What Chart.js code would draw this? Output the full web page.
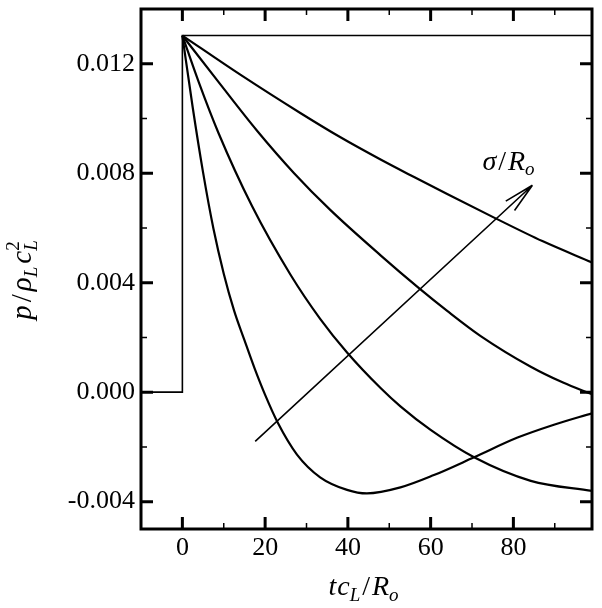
<!DOCTYPE html>
<html>
<head>
<meta charset="utf-8">
<script src="https://cdn.jsdelivr.net/npm/chart.js@4.4.1/dist/chart.umd.min.js"></script>
<style>
  html, body { margin: 0; padding: 0; background: #fff; }
  #wrap { position: relative; width: 602px; height: 608px; }
</style>
</head>
<body>
<div id="wrap"><canvas id="c" width="602" height="608"></canvas></div>
<script>
// ---- data (p in units of p/rho_L c_L^2) ----
const xTicks = [0, 20, 40, 60, 80];
const xMinor = [10, 30, 50, 70, 90];
const yTicks = [-0.004, 0.000, 0.004, 0.008, 0.012];
const yMinor = [-0.002, 0.002, 0.006, 0.010];

// step input (sigma -> infinity)
const stepT = [-10, 0, 0, 99];
const stepP = [0, 0, 0.01303, 0.01303];

// largest sigma
const tA = [0, 14, 28.5, 38, 47.9, 56, 64, 75.7, 87, 99];
const pA = [0.01303, 0.0116, 0.0102, 0.00933, 0.0085, 0.00786, 0.00724, 0.00635, 0.00552, 0.00474];

const tB = [0, 9, 18, 27, 35.8, 47.9, 57.1, 64, 72.1, 84.2, 92, 99];
const pB = [0.01303, 0.01128, 0.00956, 0.0080, 0.00665, 0.0050, 0.00381, 0.00297, 0.00205, 0.00093, 0.00035, -0.00008];

const tC = [0, 4, 8.7, 16.8, 26.1, 33.3, 39.8, 47.9, 52.7, 60, 70.5, 84.2, 99];
const pC = [0.01303, 0.01131, 0.00948, 0.00681, 0.0043, 0.00268, 0.00145, 0.00015, -0.00052, -0.00138, -0.00238, -0.00324, -0.00361];

// smallest sigma
const tD = [0, 2.5, 5, 7.5, 10, 12.5, 15, 17.5, 20, 23, 27.7, 33.3, 39.8, 44.6, 52.7, 60.8, 70.5, 81, 89.8, 99];
const pD = [0.01303, 0.0104, 0.00803, 0.00598, 0.00433, 0.00298, 0.0019, 0.00085, -0.0001, -0.0011, -0.00228, -0.00311, -0.00357, -0.0037, -0.00348, -0.00303, -0.00238, -0.00166, -0.00119, -0.00077];

// arrow annotation (data coordinates)
const arrowFrom = [17.6, -0.0018];
const arrowTo = [84.6, 0.00756];

const FONT = '"Liberation Serif", "Times New Roman", serif';

function pts(t, p) { return t.map((v, i) => ({ x: v, y: p[i] })); }

function lineDs(t, p, w, smooth) {
  return {
    data: pts(t, p),
    showLine: true,
    borderColor: '#000',
    borderWidth: w,
    pointRadius: 0,
    fill: false,
    tension: 0,
    cubicInterpolationMode: smooth ? 'monotone' : 'default'
  };
}

function fontStr(s) { return (s.it ? 'italic ' : '') + s.sz + 'px ' + FONT; }
function segWidth(ctx, s) {
  if (s.stack) return Math.max(...s.stack.map(q => segWidth(ctx, q)));
  ctx.font = fontStr(s);
  return ctx.measureText(s.t).width + (s.gap || 0);
}
function drawRich(ctx, segs, x, y, align) {
  let total = segs.reduce((a, s) => a + segWidth(ctx, s), 0);
  let cx = align === 'center' ? x - total / 2 : x;
  ctx.textBaseline = 'alphabetic';
  ctx.textAlign = 'left';
  ctx.fillStyle = '#000';
  for (const s of segs) {
    const w = segWidth(ctx, s);
    const list = s.stack ? s.stack : [s];
    for (const q of list) {
      ctx.font = fontStr(q);
      ctx.fillText(q.t, cx, y + (q.dy || 0));
    }
    cx += w;
  }
}

const framePlugin = {
  id: 'frame',
  afterDatasetsDraw(chart) {
    const { ctx, chartArea: { left, right, top, bottom }, scales: { x, y } } = chart;
    ctx.save();
    ctx.strokeStyle = '#000';
    ctx.lineCap = 'butt';
    const tick = (vals, len, lw) => {
      ctx.lineWidth = lw;
      ctx.beginPath();
      for (const v of vals.x || []) {
        const px = x.getPixelForValue(v);
        ctx.moveTo(px, bottom); ctx.lineTo(px, bottom - len);
        ctx.moveTo(px, top); ctx.lineTo(px, top + len);
      }
      for (const v of vals.y || []) {
        const py = y.getPixelForValue(v);
        ctx.moveTo(left, py); ctx.lineTo(left + len, py);
        ctx.moveTo(right, py); ctx.lineTo(right - len, py);
      }
      ctx.stroke();
    };
    tick({ x: xTicks, y: yTicks }, 12, 3);
    tick({ x: xMinor, y: yMinor }, 6, 1.5);
    ctx.lineWidth = 3;
    ctx.strokeRect(left, top, right - left, bottom - top);

    // arrow
    const ax0 = x.getPixelForValue(arrowFrom[0]), ay0 = y.getPixelForValue(arrowFrom[1]);
    const ax1 = x.getPixelForValue(arrowTo[0]), ay1 = y.getPixelForValue(arrowTo[1]);
    ctx.lineWidth = 1.6;
    ctx.beginPath();
    ctx.moveTo(ax0, ay0); ctx.lineTo(ax1, ay1);
    const ang = Math.atan2(ay0 - ay1, ax0 - ax1);
    const bl = 31, da = 12 * Math.PI / 180;
    ctx.moveTo(ax1, ay1); ctx.lineTo(ax1 + bl * Math.cos(ang + da), ay1 + bl * Math.sin(ang + da));
    ctx.moveTo(ax1, ay1); ctx.lineTo(ax1 + bl * Math.cos(ang - da), ay1 + bl * Math.sin(ang - da));
    ctx.stroke();

    // sigma / R_o label
    drawRich(ctx, [
      { t: '\u03c3', it: 1, sz: 28, gap: 2 },
      { t: '/', sz: 28, gap: 2 },
      { t: 'R', it: 1, sz: 28 },
      { t: 'o', it: 1, sz: 19, dy: 5 }
    ], ax1 - 50, ay1 - 15, 'left');

    // x-axis title
    drawRich(ctx, [
      { t: 't', it: 1, sz: 28, gap: 1 },
      { t: 'c', it: 1, sz: 28 },
      { t: 'L', it: 1, sz: 19, dy: 6, gap: 2 },
      { t: '/', sz: 28, gap: 2 },
      { t: 'R', it: 1, sz: 28 },
      { t: 'o', it: 1, sz: 19, dy: 6 }
    ], (left + right) / 2 - 3, 595, 'center');

    // y-axis title (rotated)
    ctx.translate(31, 280);
    ctx.rotate(-Math.PI / 2);
    drawRich(ctx, [
      { t: 'p', it: 1, sz: 29, gap: 3 },
      { t: '/', sz: 29, gap: 3 },
      { t: '\u03c1', it: 1, sz: 29 },
      { t: 'L', it: 1, sz: 19, dy: 6, gap: 3 },
      { t: 'c', it: 1, sz: 29 },
      { stack: [ { t: '2', sz: 19, dy: -12 }, { t: 'L', it: 1, sz: 19, dy: 6 } ] }
    ], 0, 0, 'center');
    ctx.restore();
  }
};

Chart.defaults.font.family = FONT;
Chart.defaults.color = '#000';

new Chart(document.getElementById('c'), {
  type: 'scatter',
  data: {
    datasets: [
      lineDs(stepT, stepP, 1.6, false),
      lineDs(tA, pA, 2.2, true),
      lineDs(tB, pB, 2.2, true),
      lineDs(tC, pC, 2.2, true),
      lineDs(tD, pD, 2.2, true)
    ]
  },
  options: {
    responsive: false,
    animation: false,
    events: [],
    layout: { padding: { top: 9, right: 10, left: 0, bottom: 0 } },
    plugins: { legend: { display: false }, tooltip: { enabled: false } },
    scales: {
      x: {
        type: 'linear',
        min: -10, max: 99,
        grid: { display: false, drawTicks: false },
        border: { display: false },
        afterBuildTicks: s => { s.ticks = xTicks.map(v => ({ value: v })); },
        afterFit: s => { s.height = 79; s.paddingLeft = 0; s.paddingRight = 0; s.paddingTop = 0; s.paddingBottom = 0; },
        ticks: {
          padding: 4,
          font: { size: 26, family: FONT },
          color: '#000',
          maxRotation: 0,
          callback: v => String(v)
        }
      },
      y: {
        type: 'linear',
        min: -0.005, max: 0.014,
        grid: { display: false, drawTicks: false },
        border: { display: false },
        afterBuildTicks: s => { s.ticks = yTicks.map(v => ({ value: v })); },
        afterFit: s => { s.width = 141; s.paddingLeft = 0; s.paddingRight = 0; s.paddingTop = 0; s.paddingBottom = 0; },
        ticks: {
          padding: 6,
          font: { size: 26, family: FONT },
          color: '#000',
          callback: v => Number(v).toFixed(3)
        }
      }
    }
  },
  plugins: [framePlugin]
});
</script>
</body>
</html>
